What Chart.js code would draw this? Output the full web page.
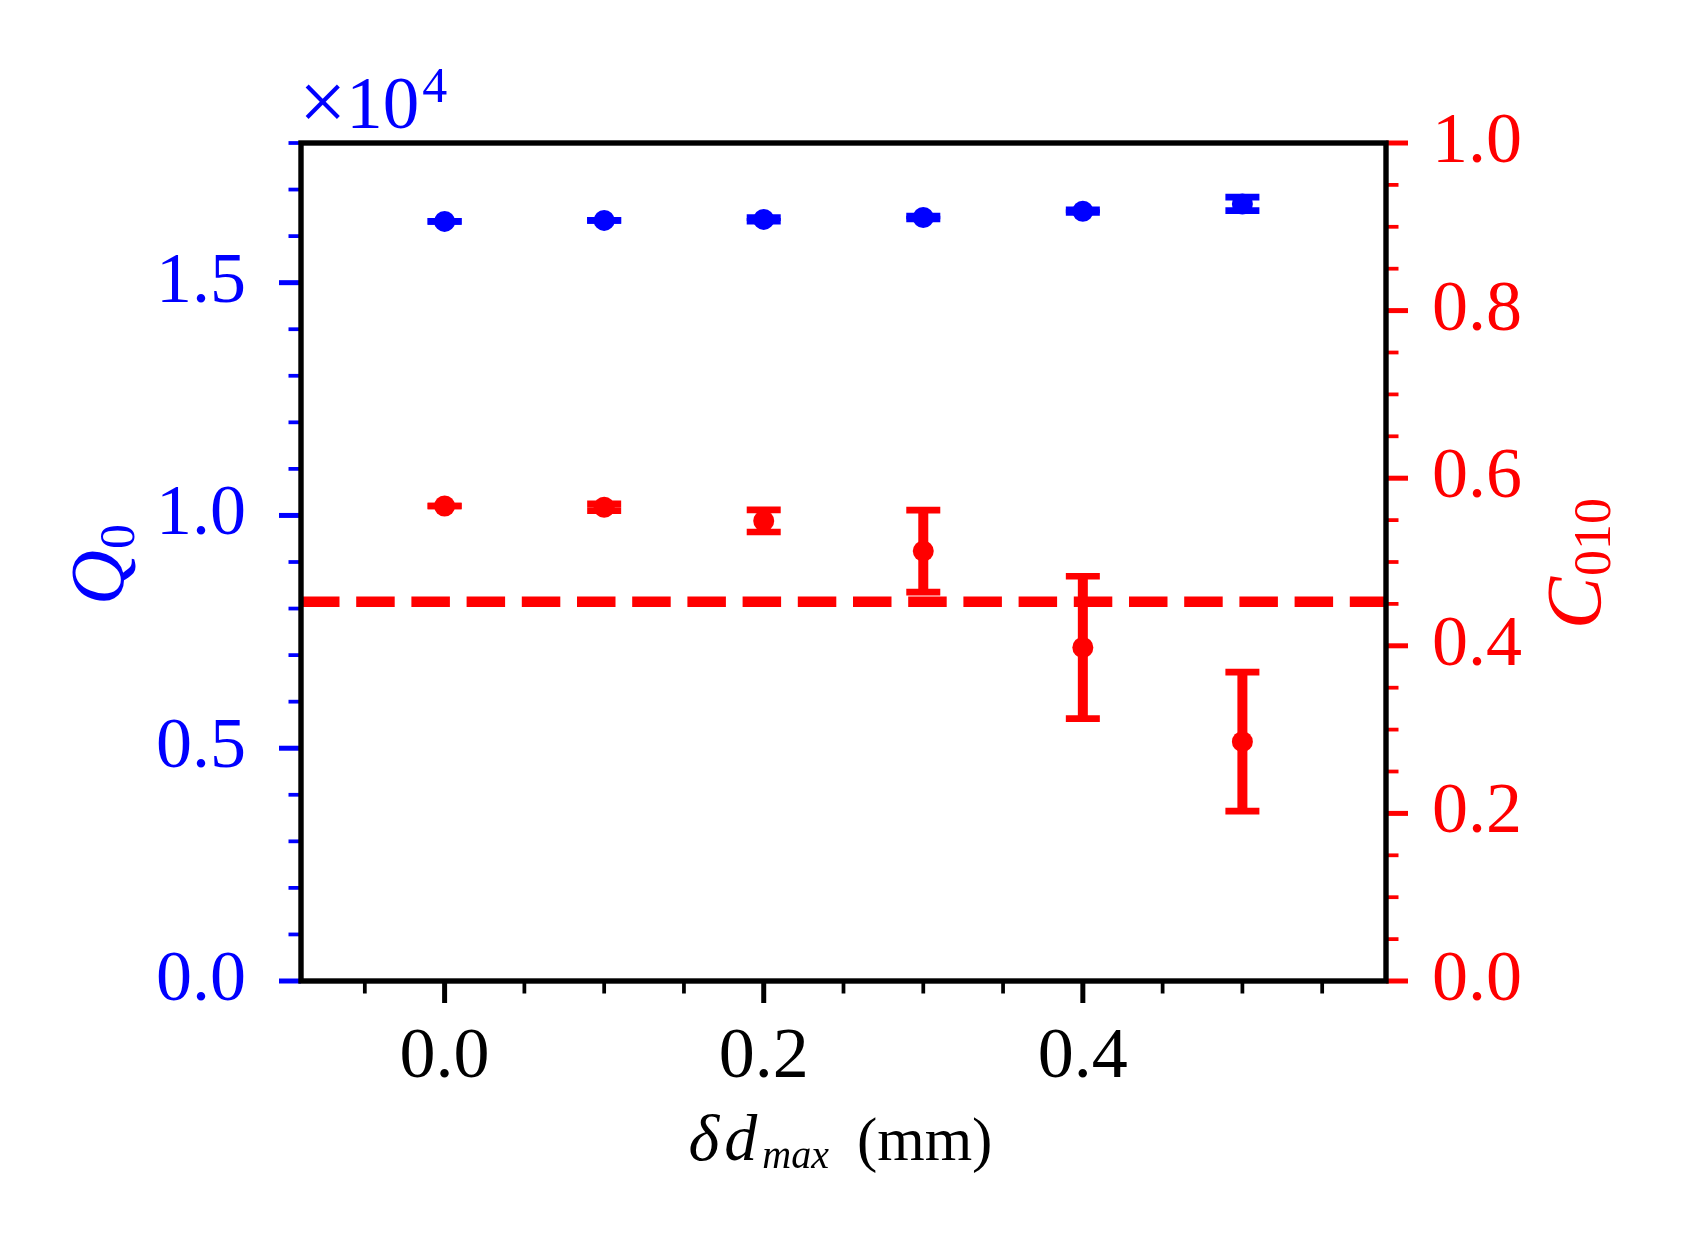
<!DOCTYPE html>
<html><head><meta charset="utf-8">
<script src="https://cdn.jsdelivr.net/npm/chart.js@4/dist/chart.umd.min.js"></script>
<style>html,body{margin:0;padding:0;background:#fff;}canvas{display:block;}</style>
</head><body>
<canvas id="c" width="1687" height="1250"></canvas>
<script>
// ---- data ----
const deltaD = [0.0, 0.1, 0.2, 0.3, 0.4, 0.5];
const q0Values = [16316, 16337, 16358, 16400, 16535, 16692];
const q0Errors = [0, 0, 39, 32, 28, 144];
const c010Values = [0.5668, 0.5653, 0.549, 0.513, 0.398, 0.2856];
const c010Errors = [0.0, 0.004, 0.0132, 0.049, 0.085, 0.083];
const c010Threshold = [0.4525];
const xRange = [-0.09, 0.59];
const q0Range = [0, 18000];
const c010Range = [0, 1];
const xTickValues = [0.0, 0.2, 0.4];
const q0TickValues = [0, 5000, 10000, 15000];
const c010TickValues = [0.0, 0.2, 0.4, 0.6, 0.8, 1.0];
const xMinorStep = [0.05];
const q0MinorStep = [1000];
const c010MinorStep = [0.05];

const BLUE = '#0000ff', RED = '#ff0000', BLACK = '#000000';
const SERIF = '"Liberation Serif", "Times New Roman", serif';

function line(ctx, x1, y1, x2, y2) { ctx.beginPath(); ctx.moveTo(x1, y1); ctx.lineTo(x2, y2); ctx.stroke(); }

function drawErrorBars(chart, dsIndex, errs, color) {
  const ctx = chart.ctx;
  const meta = chart.getDatasetMeta(dsIndex);
  const ds = chart.data.datasets[dsIndex];
  const xs = chart.scales[meta.xAxisID], ys = chart.scales[meta.yAxisID];
  ctx.save();
  ctx.strokeStyle = color; ctx.lineCap = 'butt';
  ds.data.forEach((p, i) => {
    const x = xs.getPixelForValue(p.x);
    const yt = ys.getPixelForValue(p.y + errs[i]);
    const yb = ys.getPixelForValue(p.y - errs[i]);
    ctx.lineWidth = 10; line(ctx, x, yt, x, yb);
    ctx.lineWidth = 6.7;
    line(ctx, x - 17, yt, x + 17, yt);
    line(ctx, x - 17, yb, x + 17, yb);
  });
  ctx.restore();
}

function tickList(majors, step, min, max) {
  const out = [];
  const k0 = Math.ceil(min / step - 1e-9), k1 = Math.floor(max / step + 1e-9);
  for (let k = k0; k <= k1; k++) {
    const v = k * step;
    const isMajor = majors.some(m => Math.abs(m - v) < step * 1e-3);
    out.push({ v, major: isMajor });
  }
  return out;
}

function drawTicks(chart, scale, side, majors, step, color) {
  const ctx = chart.ctx, a = chart.chartArea;
  ctx.save(); ctx.strokeStyle = color; ctx.lineCap = 'butt';
  tickList(majors, step, scale.min, scale.max).forEach(t => {
    const len = t.major ? 22 : 12.5;
    ctx.lineWidth = t.major ? 5 : 3.75;
    const p = scale.getPixelForValue(t.v);
    if (side === 'left') line(ctx, a.left, p, a.left - len, p);
    else if (side === 'right') line(ctx, a.right, p, a.right + len, p);
    else line(ctx, p, a.bottom, p, a.bottom + len);
  });
  ctx.restore();
}

const decorPlugin = {
  id: 'decor',
  beforeDatasetsDraw(chart) {
    drawErrorBars(chart, 0, q0Errors, BLUE);
    drawErrorBars(chart, 1, c010Errors, RED);
  },
  afterDraw(chart) {
    const ctx = chart.ctx, a = chart.chartArea;
    drawTicks(chart, chart.scales.y, 'left', q0TickValues, q0MinorStep[0], BLUE);
    drawTicks(chart, chart.scales.y1, 'right', c010TickValues, c010MinorStep[0], RED);
    drawTicks(chart, chart.scales.x, 'bottom', xTickValues, xMinorStep[0], BLACK);
    // frame
    ctx.save();
    ctx.strokeStyle = BLACK; ctx.lineWidth = 5.4; ctx.lineJoin = 'miter';
    ctx.strokeRect(a.left, a.top, a.right - a.left, a.bottom - a.top);
    ctx.restore();

    const cx = (a.left + a.right) / 2, cy = (a.top + a.bottom) / 2;
    ctx.save();
    ctx.textBaseline = 'alphabetic'; ctx.textAlign = 'left';
    // offset text x10^4
    ctx.fillStyle = BLUE;
    const tx = a.left - 2, tb = a.top - 15;
    ctx.font = `84px ${SERIF}`;
    ctx.fillText('\u00d7', tx, tb + 2);
    const wx = ctx.measureText('\u00d7').width;
    ctx.font = `73px ${SERIF}`;
    ctx.fillText('10', tx + wx, tb);
    const w10 = ctx.measureText('10').width;
    ctx.font = `50px ${SERIF}`;
    ctx.fillText('4', tx + wx + w10 + 3, tb - 26);

    // x label: delta d_max (mm)
    ctx.fillStyle = BLACK;
    const xb = 1160;
    const mainFont = `italic 66px ${SERIF}`, subFont = `italic 40px ${SERIF}`, unitFont = `61px ${SERIF}`;
    ctx.font = mainFont;
    const wDelta = ctx.measureText('\u03b4').width, wD = ctx.measureText('d').width;
    ctx.font = subFont; const wSub = ctx.measureText('max').width;
    ctx.font = unitFont; const wUnit = ctx.measureText('(mm)').width;
    const sp = 5, gap = 28;
    const total = wDelta + sp + wD + sp + wSub + gap + wUnit;
    let sx = cx - 3 - total / 2;
    ctx.font = mainFont;
    ctx.fillText('\u03b4', sx, xb); sx += wDelta + sp;
    ctx.fillText('d', sx, xb); sx += wD + sp;
    ctx.font = subFont; ctx.fillText('max', sx, xb + 8); sx += wSub + gap;
    ctx.font = unitFont; ctx.fillText('(mm)', sx, xb);

    // left y label Q_0
    ctx.save();
    ctx.fillStyle = BLUE;
    ctx.font = `italic 76px ${SERIF}`; const wQ = ctx.measureText('Q').width;
    ctx.font = `50px ${SERIF}`; const wQs = ctx.measureText('0').width;
    ctx.translate(123, cy + 3 + (wQ + wQs) / 2);
    ctx.rotate(-Math.PI / 2);
    ctx.font = `italic 76px ${SERIF}`; ctx.fillText('Q', 0, 0);
    ctx.font = `50px ${SERIF}`; ctx.fillText('0', wQ + 1, 11);
    ctx.restore();

    // right y label C_010
    ctx.save();
    ctx.fillStyle = RED;
    ctx.font = `italic 78px ${SERIF}`; const wC = ctx.measureText('C').width;
    ctx.font = `52px ${SERIF}`; const wCs = ctx.measureText('010').width;
    ctx.translate(1600, cy + 2 + (wC + wCs) / 2);
    ctx.rotate(-Math.PI / 2);
    ctx.font = `italic 78px ${SERIF}`; ctx.fillText('C', 0, 0);
    ctx.font = `52px ${SERIF}`; ctx.fillText('010', wC + 1, 10);
    ctx.restore();
    ctx.restore();
  }
};

const fmt1 = v => Number(v).toFixed(1);

new Chart(document.getElementById('c'), {
  type: 'scatter',
  data: {
    datasets: [
      {
        label: 'Q0',
        data: deltaD.map((x, i) => ({ x, y: q0Values[i] })),
        yAxisID: 'y', xAxisID: 'x',
        pointRadius: 10.5, pointBackgroundColor: BLUE, pointBorderWidth: 0, pointBorderColor: BLUE,
        showLine: false
      },
      {
        label: 'C010',
        data: deltaD.map((x, i) => ({ x, y: c010Values[i] })),
        yAxisID: 'y1', xAxisID: 'x',
        pointRadius: 10.5, pointBackgroundColor: RED, pointBorderWidth: 0, pointBorderColor: RED,
        showLine: false
      },
      {
        label: 'threshold',
        type: 'line',
        data: [{ x: xRange[0], y: c010Threshold[0] }, { x: xRange[1], y: c010Threshold[0] }],
        yAxisID: 'y1', xAxisID: 'x',
        borderColor: RED, borderWidth: 10.4, borderDash: [38.5, 16.7], borderCapStyle: 'butt',
        pointRadius: 0, fill: false, tension: 0
      }
    ]
  },
  options: {
    responsive: false, animation: false, devicePixelRatio: 1,
    layout: { padding: { top: 143, left: 0, right: 0, bottom: 0 } },
    plugins: { legend: { display: false }, tooltip: { enabled: false } },
    scales: {
      x: {
        type: 'linear', position: 'bottom', min: xRange[0], max: xRange[1],
        grid: { display: false, drawTicks: false }, border: { display: false },
        afterBuildTicks: s => { s.ticks = xTickValues.map(v => ({ value: v })); },
        afterFit: s => { s.height = 269; },
        ticks: { color: BLACK, font: { family: SERIF, size: 72 }, padding: 34, autoSkip: false, maxRotation: 0, callback: fmt1 }
      },
      y: {
        type: 'linear', position: 'left', min: q0Range[0], max: q0Range[1],
        grid: { display: false, drawTicks: false }, border: { display: false },
        afterBuildTicks: s => { s.ticks = q0TickValues.map(v => ({ value: v })); },
        afterFit: s => { s.width = 301; },
        ticks: { color: BLUE, font: { family: SERIF, size: 72 }, padding: 55, autoSkip: false, callback: v => fmt1(v / 10000) }
      },
      y1: {
        type: 'linear', position: 'right', min: c010Range[0], max: c010Range[1],
        grid: { display: false, drawTicks: false }, border: { display: false },
        afterBuildTicks: s => { s.ticks = c010TickValues.map(v => ({ value: v })); },
        afterFit: s => { s.width = 301; },
        ticks: { color: RED, font: { family: SERIF, size: 72 }, padding: 46, autoSkip: false, callback: fmt1 }
      }
    }
  },
  plugins: [decorPlugin]
});
</script>
</body></html>
